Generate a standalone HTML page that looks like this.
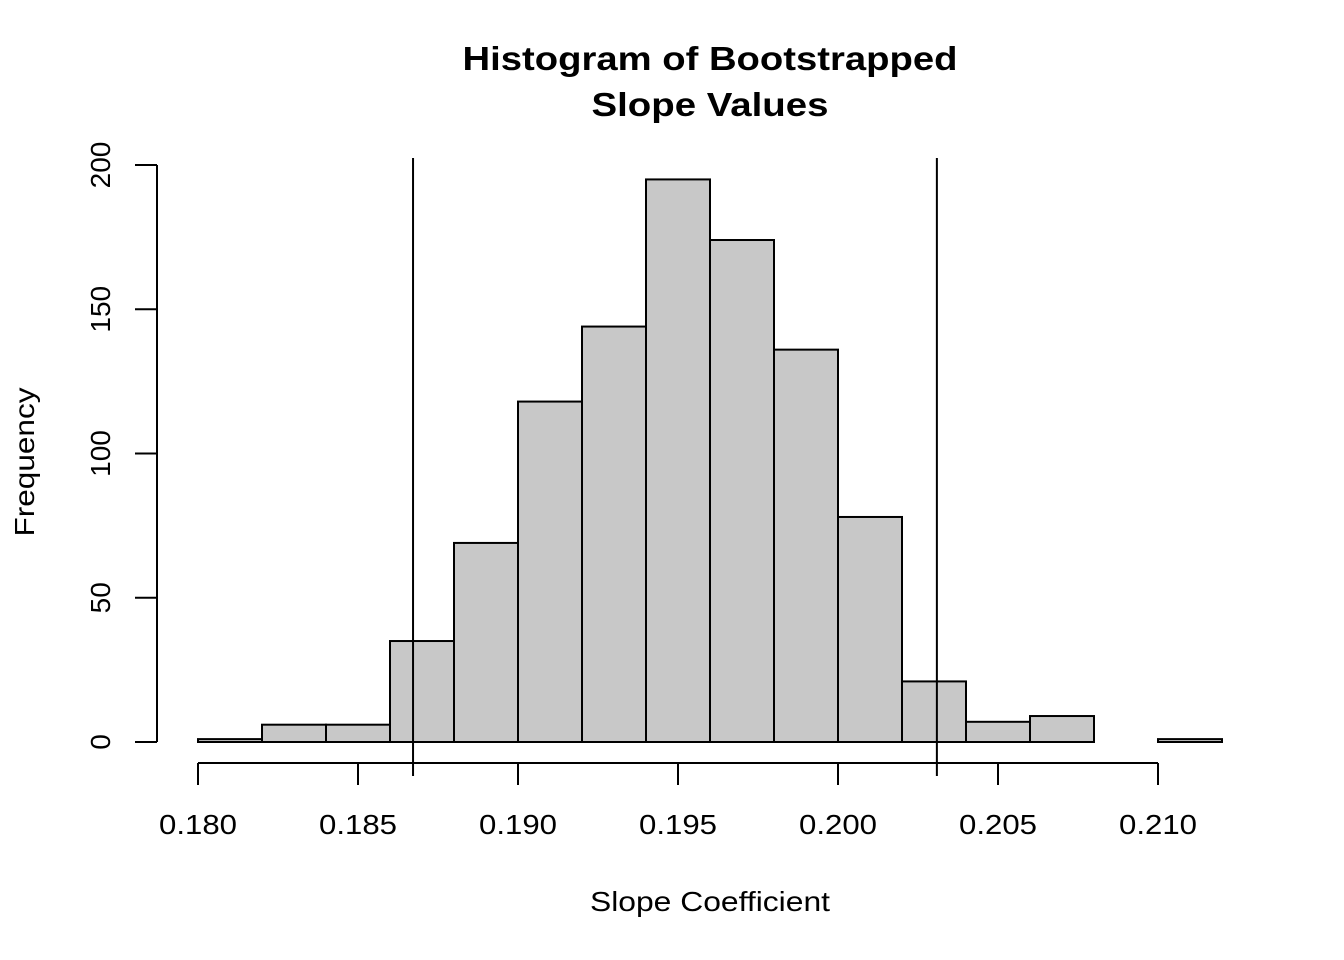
<!DOCTYPE html>
<html><head><meta charset="utf-8">
<style>
html,body{margin:0;padding:0;background:#fff;}
svg{display:block;font-family:"Liberation Sans",Arial,sans-serif;}
</style></head>
<body>
<svg id="chart" width="1344" height="960" viewBox="0 0 1344 960" xmlns="http://www.w3.org/2000/svg">
<text x="710" y="70" text-anchor="middle" font-size="33" font-weight="bold" textLength="495" lengthAdjust="spacingAndGlyphs">Histogram of Bootstrapped</text>
<text x="710" y="116" text-anchor="middle" font-size="33" font-weight="bold" textLength="237" lengthAdjust="spacingAndGlyphs">Slope Values</text>
<text x="710" y="911" text-anchor="middle" font-size="28" textLength="240" lengthAdjust="spacingAndGlyphs">Slope Coefficient</text>
<text transform="translate(34,462) rotate(-90)" text-anchor="middle" font-size="28" textLength="149" lengthAdjust="spacingAndGlyphs">Frequency</text>
<g id="bars"></g>
<g id="xaxis"></g>
<g id="yaxis"></g>
<g id="vlines"></g>
</svg>
<script>
const binStarts = [0.180,0.182,0.184,0.186,0.188,0.190,0.192,0.194,0.196,0.198,0.200,0.202,0.204,0.206,0.208,0.210];
const counts = [1,6,6,35,69,118,144,195,174,136,78,21,7,9,0,1];
const binWidth = 0.002;
const xTicks = [0.180,0.185,0.190,0.195,0.200,0.205,0.210];
const xTickLabels = ["0.180","0.185","0.190","0.195","0.200","0.205","0.210"];
const yTicks = [0,50,100,150,200];
const ciBounds = [0.18672,0.20309];

const NS="http://www.w3.org/2000/svg";
const xs = v => 198 + (v-0.180)/0.030*960;
const ys = v => 742 - v/200*577;
function mk(tag, attrs, parent){const e=document.createElementNS(NS,tag);for(const k in attrs)e.setAttribute(k,attrs[k]);parent.appendChild(e);return e;}
const bars=document.getElementById('bars');
binStarts.forEach((b,i)=>{
  const x0=xs(b), x1=xs(b+binWidth), y=ys(counts[i]);
  const r=mk('rect',{x:x0,y:y,width:x1-x0,height:ys(0)-y,fill:'#c8c8c8',stroke:'#000','stroke-width':2},bars);
  
  
});
const xa=document.getElementById('xaxis');
mk('line',{x1:xs(xTicks[0]),x2:xs(xTicks[xTicks.length-1]),y1:763,y2:763,stroke:'#000','stroke-width':2},xa);
xTicks.forEach((t,i)=>{
  mk('line',{x1:xs(t),x2:xs(t),y1:763,y2:785,stroke:'#000','stroke-width':2},xa);
  const tx=mk('text',{x:xs(t),y:834,'text-anchor':'middle','font-size':28,textLength:78,lengthAdjust:'spacingAndGlyphs'},xa);
  tx.textContent=xTickLabels[i];
  
  
});
const ya=document.getElementById('yaxis');
mk('line',{x1:157,x2:157,y1:ys(yTicks[0]),y2:ys(yTicks[yTicks.length-1]),stroke:'#000','stroke-width':2},ya);
yTicks.forEach(t=>{
  mk('line',{x1:135,x2:157,y1:ys(t),y2:ys(t),stroke:'#000','stroke-width':2},ya);
  const tx=mk('text',{transform:`translate(110,${ys(t)}) rotate(-90)`,'text-anchor':'middle','font-size':28},ya);
  tx.textContent=String(t);
  
  
});
const vl=document.getElementById('vlines');
ciBounds.forEach(v=>{
  const l=mk('line',{x1:xs(v),x2:xs(v),y1:158,y2:776,stroke:'#000','stroke-width':2},vl);
  
  
});
</script>
</body></html>
